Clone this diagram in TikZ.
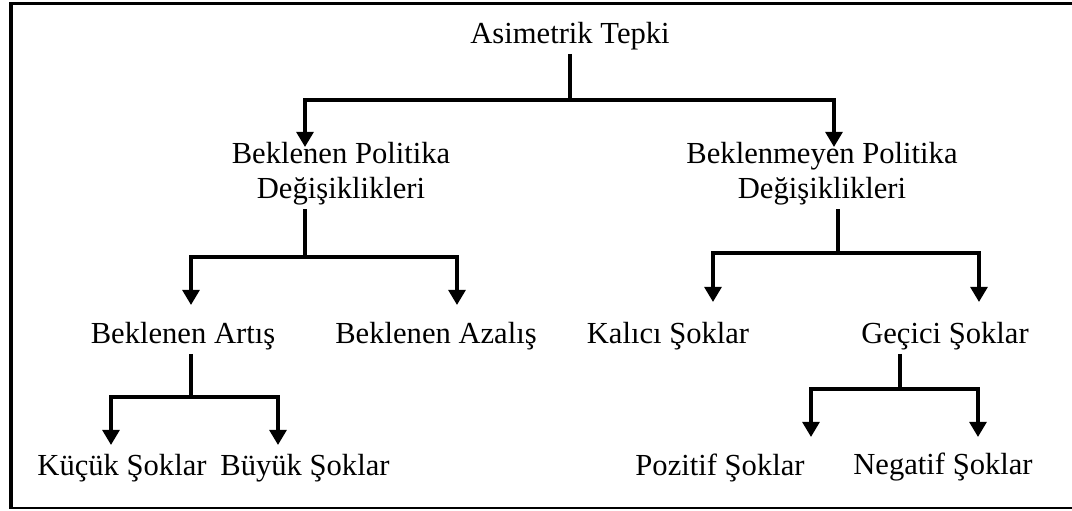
\documentclass[tikz,border=0pt]{standalone}
\usepackage{fontspec}
\setmainfont{Liberation Serif}
\usetikzlibrary{arrows.meta}
\begin{document}
\begin{tikzpicture}[x=0.5pt,y=-0.5pt,
  lbl/.style={font=\fontsize{15.3}{17.5}\selectfont, inner sep=2pt, align=center, anchor=base},
  conn/.style={line width=1.9pt},
  arr/.style={conn,-{Triangle[width=8.4pt,length=7.6pt]}},
  frame/.style={line width=#1}]
\useasboundingbox (0,0) rectangle (1072,510);
% frame (cropped at the right)
\draw[frame=1.6pt] (1080,3.5) -- (9,3.5);
\draw[frame=2pt] (11,2) -- (11,508.5);
\draw[frame=0.9pt] (10,508) -- (1080,508);
% nodes (base anchor = baseline of the last line)
\node[lbl] (root) at (570,43) {Asimetrik Tepki};
\node[lbl] (bp) at (341,198) {Beklenen Politika\\Değişiklikleri};
\node[lbl] (bm) at (822,198) {Beklenmeyen Politika\\Değişiklikleri};
\node[lbl] (ba) at (183,343) {Beklenen Artış};
\node[lbl] (bz) at (436,343) {Beklenen Azalış};
\node[lbl] (ks) at (668,343) {Kalıcı Şoklar};
\node[lbl] (gs) at (945,343) {Geçici Şoklar};
\node[lbl] (kc) at (122,475) {Küçük Şoklar};
\node[lbl] (by) at (305,475) {Büyük Şoklar};
\node[lbl] (pz) at (720,475) {Pozitif Şoklar};
\node[lbl] (ng) at (943,474) {Negatif Şoklar};
% junctions and arrow tips
\coordinate (j0) at (570,100);
\coordinate (t1) at (305,147);
\coordinate (t2) at (834,147);
\coordinate (j1) at (305,257);
\coordinate (t3) at (191,305);
\coordinate (t4) at (457,305);
\coordinate (j2) at (838,253);
\coordinate (t5) at (713,302);
\coordinate (t6) at (979,302);
\coordinate (j3) at (191,397);
\coordinate (t7) at (111,445);
\coordinate (t8) at (278,445);
\coordinate (j4) at (900,389);
\coordinate (t9) at (811,437);
\coordinate (t10) at (978,437);
% connectors
\draw[conn] (root.south) -- (j0);
\draw[arr] (j0) -| (t1);
\draw[arr] (j0) -| (t2);
\draw[conn] (bp.south -| j1) -- (j1);
\draw[arr] (j1) -| (t3);
\draw[arr] (j1) -| (t4);
\draw[conn] (bm.south -| j2) -- (j2);
\draw[arr] (j2) -| (t5);
\draw[arr] (j2) -| (t6);
\draw[conn] (ba.south -| j3) -- (j3);
\draw[arr] (j3) -| (t7);
\draw[arr] (j3) -| (t8);
\draw[conn] (gs.south -| j4) -- (j4);
\draw[arr] (j4) -| (t9);
\draw[arr] (j4) -| (t10);
\end{tikzpicture}
\end{document}
